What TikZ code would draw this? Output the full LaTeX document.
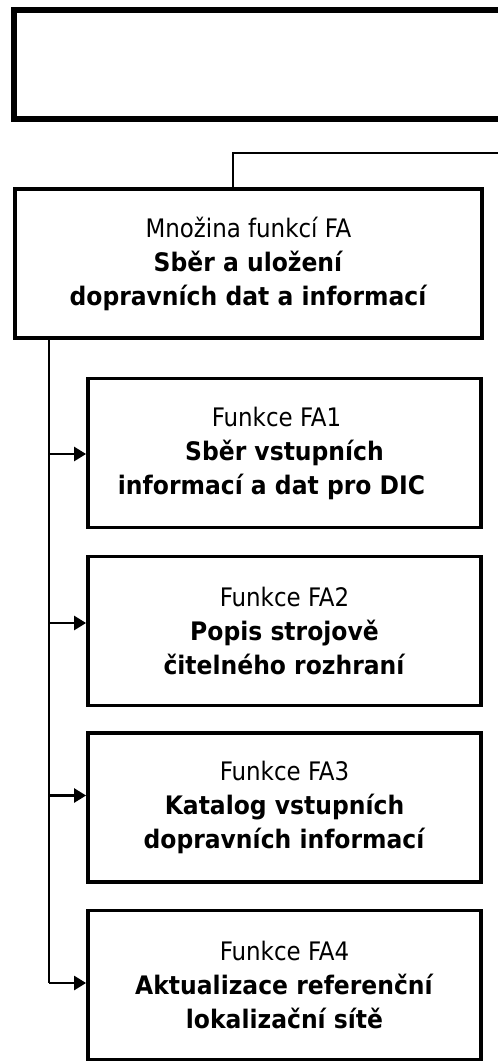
\documentclass[tikz,border=0pt]{standalone}
\usepackage{fontspec}
\setmainfont{DejaVu Sans Condensed}[
  BoldFont={DejaVu Sans Bold},
  BoldFeatures={FakeStretch=0.92}]
\usetikzlibrary{arrows.meta}
\begin{document}
\begin{tikzpicture}[x=1pt,y=-1pt,
  boxstyle/.style={draw, rectangle, line width=3.75pt, inner sep=0pt, outer sep=0pt,
    align=center, font=\fontsize{25.5}{34}\selectfont},
  fnbox/.style={boxstyle, minimum width=393pt, minimum height=149pt},
  link/.style={line width=2.5pt},
  arr/.style={link, -{Triangle[length=12pt,width=14pt]}}
]
\useasboundingbox (0,0) rectangle (498,1061);

% heading frame running off the right side
\node[draw, rectangle, line width=6pt, inner sep=0pt, outer sep=0pt,
  minimum width=526pt, minimum height=108.5pt] (head) at (277,64.25) {};

% group of functions
\node[boxstyle, minimum width=467pt, minimum height=149pt] (fa) at (248.5,263.5)
  {Množina funkcí FA\\ \textbf{Sběr a uložení}\\ \textbf{dopravních dat a informací}};

% individual functions
\node[fnbox] (fa1) at (284.5,453)
  {Funkce FA1\hspace*{16pt}\\ \textbf{Sběr vstupních}\hspace*{20pt}\\
   \textbf{informací a dat pro DIC}\hspace*{26pt}};
\node[fnbox] (fa2) at (284.5,631)
  {Funkce FA2\\ \textbf{Popis strojově}\\ \textbf{čitelného rozhraní}};
\node[fnbox] (fa3) at (284.5,807.5)
  {Funkce FA3\\ \textbf{Katalog vstupních}\\ \textbf{dopravních informací}};
\node[fnbox] (fa4) at (284.5,985)
  {Funkce FA4\\ \textbf{Aktualizace referenční}\\ \textbf{lokalizační sítě}};

% link up to the parent level
\coordinate (upright) at (520,153);
\draw[link] ([xshift=-15.5pt]fa.north) |- (upright);

% branch line with arrows into each function (tips stop at the outer border)
\coordinate (trunk) at (49,0);
\draw[link] (fa.south -| trunk) -- ([yshift=2pt]fa4.west -| trunk);
\draw[arr] ([yshift=-1pt]fa1.west -| trunk) -- ([xshift=-1.9pt,yshift=-1pt]fa1.west);
\draw[arr] ([yshift=8pt]fa2.west -| trunk) -- ([xshift=-1.9pt,yshift=8pt]fa2.west);
\draw[arr] ([yshift=12pt]fa3.west -| trunk) -- ([xshift=-1.9pt,yshift=12pt]fa3.west);
\draw[arr] ([yshift=2pt]fa4.west -| trunk) -- ([xshift=-1.9pt,yshift=2pt]fa4.west);
\end{tikzpicture}
\end{document}
